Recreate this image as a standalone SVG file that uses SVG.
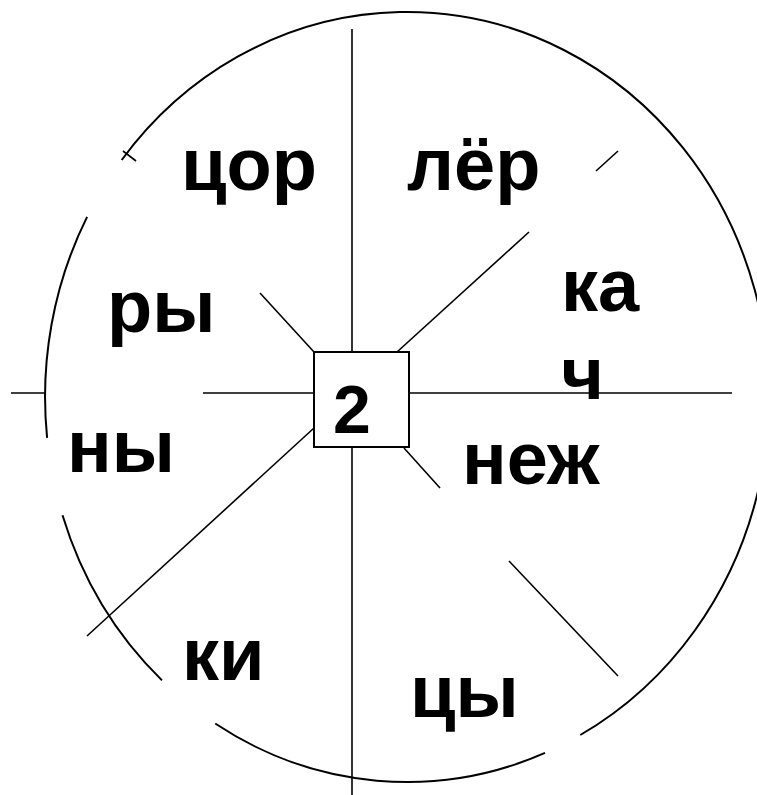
<svg xmlns="http://www.w3.org/2000/svg" width="757" height="795" viewBox="0 0 757 795">
<style>
.arc{fill:none;stroke:#000;stroke-width:2}
.ln{stroke:#000;stroke-width:1.6;fill:none}
.lbl{font-family:"Liberation Sans",Arial,sans-serif;font-weight:bold;font-size:74px;fill:#000}
</style>
<rect width="757" height="795" fill="#fff"/>
<g id="circle">
<path class="arc" d="M121.7,160 A362,385 0 1 1 580.3,735"/>
<path class="arc" d="M545,752.9 A362,385 0 0 1 215.2,723.5"/>
<path class="arc" d="M162,680.4 A362,385 0 0 1 62.5,515.3"/>
<path class="arc" d="M47.1,437.9 A362,385 0 0 1 87.1,216.9"/>
<line class="ln" x1="123" y1="151" x2="136" y2="161"/>
</g>
<g id="connectors">
<line class="ln" x1="352" y1="29" x2="352" y2="352"/>
<line class="ln" x1="352" y1="447" x2="352" y2="795"/>
<line class="ln" x1="11" y1="393" x2="46" y2="393"/>
<line class="ln" x1="203" y1="393" x2="314" y2="393"/>
<line class="ln" x1="409" y1="393" x2="732" y2="393"/>
<line class="ln" x1="260" y1="293" x2="314" y2="352"/>
<line class="ln" x1="397" y1="352" x2="529" y2="232"/>
<line class="ln" x1="596" y1="171" x2="618" y2="151"/>
<line class="ln" x1="314" y1="428" x2="87" y2="636"/>
<line class="ln" x1="404" y1="448" x2="440" y2="488"/>
<line class="ln" x1="509" y1="561" x2="618" y2="676"/>
</g>
<g id="center">
<rect x="314" y="352" width="95" height="95" fill="#fff" stroke="#000" stroke-width="2"/>
<text x="352" y="433" text-anchor="middle" style="font-family:'Liberation Sans',Arial,sans-serif;font-weight:bold;font-size:68px">2</text>
</g>
<g id="n-cor"><text class="lbl" x="181" y="190">цор</text></g>
<g id="n-ler"><text class="lbl" x="407" y="190">лёр</text></g>
<g id="n-ry"><text class="lbl" x="107" y="332">ры</text></g>
<g id="n-ka"><text class="lbl" x="561" y="311">ка</text></g>
<g id="n-ch"><text class="lbl" x="561" y="399">ч</text></g>
<g id="n-ny"><text class="lbl" x="67" y="472">ны</text></g>
<g id="n-nezh"><text class="lbl" x="462" y="484">неж</text></g>
<g id="n-ki"><text class="lbl" x="182" y="680">ки</text></g>
<g id="n-cy"><text class="lbl" x="410" y="717">цы</text></g>
</svg>
